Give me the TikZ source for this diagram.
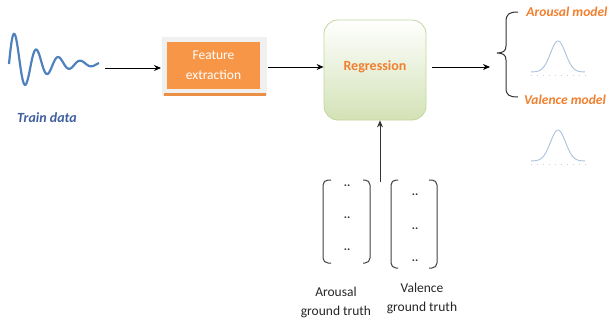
\documentclass[tikz,border=0pt]{standalone}
\usepackage{fontspec}
\setmainfont{Carlito}
\usetikzlibrary{arrows.meta}
\definecolor{wave}{HTML}{4F81BD}
\definecolor{trainblue}{HTML}{3F5F9F}
\definecolor{orng}{HTML}{F79646}
\definecolor{orngtxt}{HTML}{F07F2E}
\definecolor{greenfill}{HTML}{D3E2B6}
\definecolor{greenborder}{HTML}{C3D69B}
\definecolor{gauss}{HTML}{A9C1DD}
\tikzset{
  conn/.style={-{Stealth[length=7pt,width=6pt]},line width=0.9pt},
  lbl/.style={font=\fontsize{13.5}{16}\selectfont\bfseries\itshape,text=orngtxt},
  gt/.style={font=\fontsize{13.5}{19}\selectfont,align=center,text=black!85},
  dots/.style={font=\fontsize{12}{12}\selectfont\bfseries,text=black!80},
  paren/.style={line width=1pt,black!75,rounded corners=5pt},
  gcurve/.style={gauss,line width=0.9pt}
}
\begin{document}
\begin{tikzpicture}[x=1pt,y=-1pt]
\useasboundingbox (0,0) rectangle (614,324);
% wave
\draw[wave,line width=2.2pt,smooth,domain=0:90,samples=200] plot (\x+9,{64-36*exp(-\x/30)*sin(\x*16.3636)});
\coordinate (waveend) at (105,68);
\node[font=\fontsize{14}{16}\selectfont\bfseries\itshape,text=trainblue] (train) at (47,118) {Train data};
% feature extraction
\fill[black!6] (162,37) rectangle (267,96);
\fill[orng!75!brown] (164,93) rectangle (266,96);
\node[fill=orng,minimum width=93pt,minimum height=47pt,inner sep=0pt,align=center,text=white,font=\fontsize{13.5}{20}\selectfont] (feat) at (213.5,65.5) {Feature\\extraction};
% regression
\node[draw=greenborder,line width=0.8pt,rounded corners=14pt,top color=white,bottom color=greenfill,minimum width=102pt,minimum height=100pt,inner sep=0pt,text=orngtxt,font=\fontsize{14}{16}\selectfont\bfseries] (reg) at (375,70) {\raisebox{8pt}{Regression}};
\coordinate (featin) at (161,68);
\draw[conn] (waveend) -- (featin);
\coordinate (fo) at (268,67);
\draw[conn] (fo) -- (reg.west|-fo);
\coordinate (regout) at (432,67);
\coordinate (bracetip) at (490,67);
\draw[conn] (regout) -- (bracetip);
% brace
\draw[line width=1pt,black!80] (518,12) .. controls (509,12) and (506,14) .. (506,22) -- (506,46) .. controls (506,51) and (503,53) .. (497,53) .. controls (503,53) and (506,55) .. (506,60) -- (506,88) .. controls (506,95) and (509,97) .. (518,97);
\node[lbl] (aro) at (567,12) {Arousal model};
\node[lbl] (val) at (565,100) {Valence model};
% gaussians
\foreach \yb in {72,161}{
  \draw[gcurve,domain=-27:27,samples=80] plot (558+\x,{\yb-31*exp(-(\x*\x)/112.5)});
  \draw[gauss!70,line width=0.8pt,dash pattern=on 1pt off 5pt] (531,\yb+3) -- (588,\yb+3);
}
% ground truth arrow
\coordinate (gtarrow) at (380,182);
\draw[conn,black!80] (gtarrow) -- (reg.south-|gtarrow);
% matrices
\draw[paren] (331,180) -- (323,180) -- (323,263) -- (331,263);
\draw[paren] (363,180) -- (370,180) -- (370,263) -- (363,263);
\draw[paren] (398,180) -- (391,180) -- (391,268) -- (398,268);
\draw[paren] (429,180) -- (437,180) -- (437,268) -- (429,268);
\foreach \y in {186,218,250}{\node[dots] at (347,\y) {..};}
\foreach \y in {195,229,261}{\node[dots] at (415,\y) {..};}
\node[gt] (agt) at (336,302) {Arousal\\ground truth};
\node[gt] (vgt) at (422,298) {Valence\\ground truth};
\end{tikzpicture}
\end{document}
